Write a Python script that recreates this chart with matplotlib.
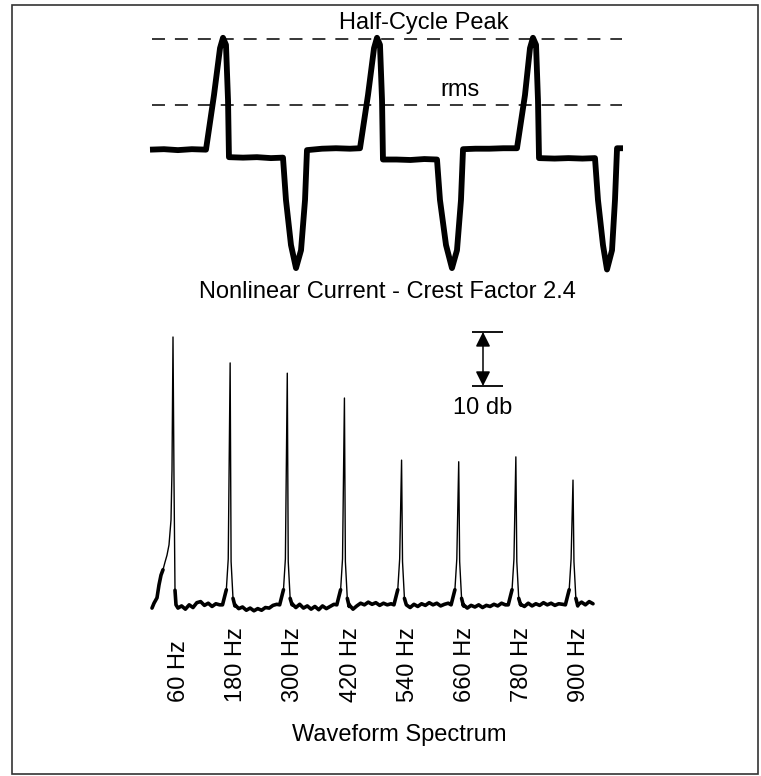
import numpy as np
import matplotlib
matplotlib.use("Agg")
import matplotlib.pyplot as plt
from matplotlib.patches import Rectangle

plt.rcParams['font.family'] = ['Liberation Sans', 'DejaVu Sans']

# --- waveform (time in ms, current in units of rms) ---
wave_t = [0.0, 1.5, 3.0, 4.5, 6.02, 6.88, 7.53, 7.85, 8.17, 8.39, 8.49,
          10.0, 11.5, 13.0, 14.30, 14.62, 15.16, 15.70, 16.24, 16.67, 16.88,
          18.5, 20.0, 21.5, 22.58, 23.44, 24.09, 24.41, 24.73, 24.95, 25.05,
          26.5, 28.0, 29.5, 30.86, 31.18, 31.83, 32.47, 33.01, 33.44, 33.66,
          35.0, 36.5, 38.0, 39.46, 40.32, 40.86, 41.18, 41.51, 41.72, 41.83,
          43.5, 45.0, 46.5, 47.85, 48.17, 48.71, 49.14, 49.68, 50.0, 50.22, 50.86]
wave_v = [0.05, 0.06, 0.04, 0.06, 0.05, 1.21, 2.21, 2.43, 2.28, 1.10, -0.11,
          -0.12, -0.11, -0.13, -0.12, -1.02, -1.98, -2.47, -2.09, -1.02, 0.04,
          0.07, 0.08, 0.07, 0.08, 1.21, 2.21, 2.43, 2.28, 1.10, -0.16,
          -0.16, -0.17, -0.15, -0.16, -1.02, -1.98, -2.47, -2.09, -1.02, 0.06,
          0.07, 0.07, 0.08, 0.08, 1.21, 2.21, 2.43, 2.28, 1.10, -0.13,
          -0.14, -0.13, -0.14, -0.13, -1.02, -1.98, -2.50, -2.09, -1.02, 0.08, 0.08]
peak_level = 2.4
rms_level = 1.0

# --- spectrum (Hz, dB relative to fundamental) ---
harmonics = [60, 180, 300, 420, 540, 660, 780, 900]
harm_labels = ['60 Hz', '180 Hz', '300 Hz', '420 Hz', '540 Hz', '660 Hz', '780 Hz', '900 Hz']
peak_db = [0.0, -4.8, -6.7, -11.3, -22.8, -23.1, -22.2, -26.5]

# rising edge into the fundamental
lead_f = [15.9, 20.1, 26.4, 30.6, 34.8, 39.0, 43.2, 47.4, 51.6, 55.8, 57.9, 60.0,
          62.1, 64.2, 66.3, 70.5]
lead_db = [-50.2, -49.3, -48.3, -45.9, -44.1, -43.1, -41.7, -40.4, -38.5, -33.9, -24.6, 0.0,
           -26.5, -46.9, -49.6, -50.2]

# skirt of each harmonic line (offset Hz, dB above floor)
skirt_df = [-16, -8, -4, 0, 2, 6, 10]
skirt_up = [0.0, 2.8, 8.5, None, 8.0, 1.2, 0.0]
floor_level = -49.6

floor_f = [78, 86, 94, 102, 110, 118, 126, 134, 142, 150, 158,
           190, 198, 206, 214, 222, 230, 238, 246, 254, 262, 270, 278,
           310, 318, 326, 334, 342, 350, 358, 366, 374, 382, 390, 398,
           430, 438, 446, 454, 462, 470, 478, 486, 494, 502, 510, 518,
           550, 558, 566, 574, 582, 590, 598, 606, 614, 622, 630, 638,
           670, 678, 686, 694, 702, 710, 718, 726, 734, 742, 750, 758,
           790, 798, 806, 814, 822, 830, 838, 846, 854, 862, 870, 878,
           910, 918, 926, 934, 942]
floor_db = [-49.8, -50.4, -49.6, -50.1, -49.2, -49.0, -49.7, -49.3, -49.9, -49.4, -49.6,
            -49.8, -50.3, -50.0, -50.6, -50.2, -50.7, -50.3, -50.6, -50.1, -50.2, -49.7, -49.5,
            -49.4, -50.1, -49.5, -50.2, -49.8, -50.4, -49.9, -50.5, -49.8, -50.3, -49.9, -49.5,
            -49.9, -50.4, -49.8, -49.3, -49.6, -49.1, -49.5, -49.2, -49.7, -49.3, -49.6, -49.4,
            -49.6, -50.1, -49.5, -49.9, -49.4, -49.7, -49.2, -49.6, -49.3, -49.8, -49.5, -49.3,
            -49.8, -50.2, -49.7, -50.0, -49.6, -50.1, -49.7, -49.9, -49.5, -49.8, -49.3, -49.6,
            -49.5, -49.9, -49.3, -49.8, -49.4, -49.7, -49.2, -49.6, -49.3, -49.7, -49.4, -49.5,
            -49.8, -49.1, -49.6, -49.0, -49.4]

# build the spectrum trace
pts = list(zip(lead_f, lead_db)) + list(zip(floor_f, floor_db))
for f, top in zip(harmonics[1:], peak_db[1:]):
    for df, up in zip(skirt_df, skirt_up):
        pts.append((f + df, top if up is None else floor_level + up))
pts.sort()
spec_f = np.array([p[0] for p in pts])
spec_db = np.array([p[1] for p in pts])

W, H = 761, 776
fig = plt.figure(figsize=(W / 100, H / 100), dpi=100)


def add_px_axes(x0, x1, y0, y1):
    return fig.add_axes([x0 / W, 1 - y1 / H, (x1 - x0) / W, (y1 - y0) / H])


# top panel: 1 px = 0.107527 ms, 47 px per unit, zero at y=152
ms_px = 16.667 / 155
t_lim = (-2, 52)
v_lim = (-3, 3)
ax1 = add_px_axes(150 + t_lim[0] / ms_px, 150 + t_lim[1] / ms_px,
                  152 - 47 * v_lim[1], 152 - 47 * v_lim[0])
ax1.set_xlim(*t_lim)
ax1.set_ylim(*v_lim)
ax1.axis('off')

ax1.hlines([peak_level, rms_level], 0.2, 50.75, colors='black', lw=1.1,
           linestyles=[(0, (8.5, 6.5))])
ax1.plot(wave_t, wave_v, color='black', lw=4.2, solid_joinstyle='round',
         solid_capstyle='butt')
ax1.text(29.4, 2.74, 'Half-Cycle Peak', ha='center', va='center', fontsize=17)
ax1.text(33.3, 1.32, 'rms', ha='center', va='center', fontsize=17)
ax1.text(25.5, -2.98, 'Nonlinear Current - Crest Factor 2.4', ha='center',
         va='center', fontsize=17, clip_on=False)

# bottom panel: 0.47619 px per Hz (60 Hz at x=173), 5.4 px per dB (0 dB at y=337)
f_lim = (0, 1000)
db_lim = (-55, 2)
ax2 = add_px_axes(173 + (f_lim[0] - 60) * 0.47619, 173 + (f_lim[1] - 60) * 0.47619,
                  337 - 5.4 * db_lim[1], 337 - 5.4 * db_lim[0])
ax2.set_xlim(*f_lim)
ax2.set_ylim(*db_lim)
ax2.axis('off')

ax2.plot(spec_f, spec_db, color='black', lw=1.0)
thick = np.where(spec_db < -43, spec_db, np.nan)
ax2.plot(spec_f, thick, color='black', lw=2.6, solid_capstyle='round')

for f, lab in zip(harmonics, harm_labels):
    ax2.text(f + 13, -67.6, lab, rotation=90, ha='center', va='bottom',
             fontsize=17, clip_on=False)
ax2.text(535, -73.7, 'Waveform Spectrum', ha='center', va='center',
         fontsize=17, clip_on=False)

# 10 db scale bar
ax2.hlines([0.93, -9.07], 688, 753, colors='black', lw=1.3)
ax2.annotate('', xy=(711, -9.07), xytext=(711, 0.93),
             arrowprops=dict(arrowstyle='<|-|>', shrinkA=0, shrinkB=0,
                             mutation_scale=22, lw=1.1, color='black'))
ax2.text(711, -13.1, '10 db', ha='center', va='center', fontsize=17)

fig.add_artist(Rectangle((12 / W, 1 - 774 / H), (758 - 12) / W, (774 - 5) / H,
                         transform=fig.transFigure, fill=False, lw=1.2,
                         edgecolor='#333333'))

fig.savefig('out.png', dpi=100, facecolor='white')
